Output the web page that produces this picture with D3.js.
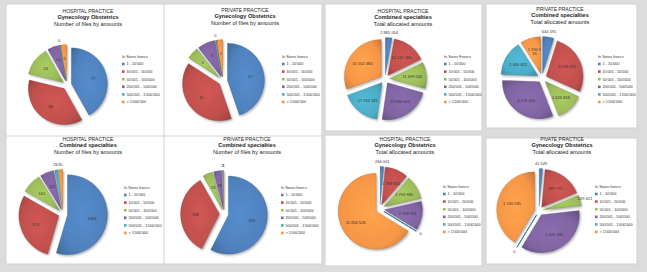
<!DOCTYPE html>
<html>
<head>
<meta charset="utf-8">
<script src="https://cdn.jsdelivr.net/npm/d3@7"></script>
<style>
  body { margin: 0; background: #dcdcdc; }
  svg { display: block; font-family: "Liberation Sans", Arial, sans-serif; }
</style>
</head>
<body>
<div id="chart"></div>
<script>
var width = 647, height = 272

// amount classes (legend)
var categories = ["1 - 10'000", "10'001 - 50'000", "50'001 - 100'000",
  "200'001 - 500'000", "500'001 - 1'000'000", "> 1'000'000"]
var colors = ["#4f81bd", "#c0504d", "#9bbb59", "#8064a2", "#4bacc6", "#f79646"]

// number of files by amounts
var hospGynFiles = [77, 68, 24, 10, 0, 5]
var privGynFiles = [17, 15, 2, 3, 0, 1]
var hospAllFiles = [1083, 570, 161, 112, 26, 35]
var privAllFiles = [315, 188, 23, 18, 3, 1]

// total allocated amounts (CHF)
var hospAllAmounts = [2885054, 15137260, 11699206, 23266615, 17334181, 31002384]
var privAllAmounts = [644591, 3576325, 1626818, 4178016, 2056812, 1190935]
var hospGynAmounts = [266001, 1768805, 1794985, 2209951, 0, 11854526]
var privGynAmounts = [41549, 497772, 129421, 1024186, 0, 1190935]

var charts = [
  { title: ["HOSPITAL PRACTICE", "Gynecology Obstetrics", "Number of files by amounts"],
    values: hospGynFiles, tx: 88, ty: 13, cx: 67, cy: 85, r: 36, lx: 122, ly: 57, lt: "In Swiss francs" },
  { title: ["PRIVATE PRACTICE", "Gynecology Obstetrics", "Number of files by amounts"],
    values: privGynFiles, tx: 245, ty: 12, cx: 223, cy: 81, r: 37, lx: 282, ly: 57, lt: "In Swiss francs" },
  { title: ["HOSPITAL PRACTICE", "Combined specialties", "Total allocated amounts"],
    values: hospAllAmounts, tx: 403, ty: 13, cx: 385, cy: 79, r: 37, lx: 444, ly: 57, lt: "In Swiss Francs" },
  { title: ["PRIVATE PRACTICE", "Combined specialties", "Total allocated amounts"],
    values: privAllAmounts, tx: 560, ty: 11, cx: 542, cy: 78, r: 37, lx: 598, ly: 57, lt: "In Swiss francs" },
  { title: ["HOSPITAL PRACTICE", "Combined specialties", "Number of files by amounts"],
    values: hospAllFiles, tx: 88, ty: 141, cx: 63, cy: 214, r: 40, lx: 124, ly: 188, lt: "In Swiss francs" },
  { title: ["PRIVATE PRACTICE", "Combined specialties", "Number of files by amounts"],
    values: privAllFiles, tx: 247, ty: 141, cx: 224, cy: 214, r: 39, lx: 281, ly: 188, lt: "In Swiss francs" },
  { title: ["HOSPITAL PRACTICE", "Gynecology Obstetrics", "Total allocated amounts"],
    values: hospGynAmounts, tx: 405, ty: 141, cx: 380, cy: 209, r: 38, lx: 443, ly: 187, lt: "In Swiss francs" },
  { title: ["PIVATE PRACTICE", "Gynecology Obstetrics", "Total allocated amounts"],
    values: privGynAmounts, tx: 562, ty: 141, cx: 539, cy: 211, r: 38, lx: 595, ly: 187, lt: "In Swiss francs" }
]

var svg = d3.select("#chart").append("svg")
  .attr("width", width)
  .attr("height", height)

// gradients + shadow
var defs = svg.append("defs")
colors.forEach(function (c, i) {
  var g = defs.append("radialGradient").attr("id", "g" + i)
    .attr("cx", "50%").attr("cy", "50%").attr("r", "65%")
  g.append("stop").attr("offset", "0%").attr("stop-color", d3.color(c).brighter(0.25))
  g.append("stop").attr("offset", "70%").attr("stop-color", c)
  g.append("stop").attr("offset", "100%").attr("stop-color", d3.color(c).darker(0.5))
})
defs.append("filter").attr("id", "shadow")
  .append("feGaussianBlur").attr("stdDeviation", 0.8)

// panels
svg.append("rect").attr("x", 6).attr("y", 4).attr("width", 316).attr("height", 260)
  .attr("fill", "#fff").attr("stroke", "#cfcfcf").attr("stroke-width", 1)
svg.append("line").attr("x1", 164).attr("x2", 164).attr("y1", 4).attr("y2", 264)
  .attr("stroke", "#d4d4d4")
svg.append("line").attr("x1", 6).attr("x2", 322).attr("y1", 136).attr("y2", 136)
  .attr("stroke", "#d4d4d4")
var rightPanels = [[325, 4, 157, 127], [486, 4, 151, 124], [325, 135, 157, 131], [486, 138, 151, 126]]
rightPanels.forEach(function (p) {
  svg.append("rect").attr("x", p[0]).attr("y", p[1]).attr("width", p[2]).attr("height", p[3])
    .attr("fill", "#fff").attr("stroke", "#cfcfcf")
})

var fmt = function (v) {
  return v >= 10000 ? d3.format(",")(v).replace(/,/g, " ") : String(v)
}

var pie = d3.pie().sort(null).value(function (d) { return d })

charts.forEach(function (ch) {
  var g = svg.append("g")

  // titles
  ch.title.forEach(function (t, i) {
    g.append("text")
      .attr("x", ch.tx).attr("y", ch.ty + i * 6.3)
      .attr("text-anchor", "middle")
      .attr("font-size", i == 0 ? 5 : 5.6)
      .attr("font-weight", i == 1 ? "bold" : "normal")
      .attr("fill", "#222")
      .text(t)
  })

  var arcs = pie(ch.values)
  var arc = d3.arc().innerRadius(0).outerRadius(ch.r)
  var explode = 4.5
  var off = function (d, k) {
    var a = (d.startAngle + d.endAngle) / 2
    return [k * Math.sin(a), -k * Math.cos(a)]
  }

  var pg = g.append("g").attr("transform", "translate(" + ch.cx + "," + ch.cy + ")")

  // shadow
  pg.selectAll("path.sh").data(arcs).enter().append("path")
    .attr("class", "sh")
    .attr("d", arc)
    .attr("transform", function (d) {
      var o = off(d, explode)
      return "translate(" + (o[0] + 1.2) + "," + (o[1] + 1.6) + ")"
    })
    .attr("fill", "#000").attr("opacity", 0.3)
    .attr("filter", "url(#shadow)")

  pg.selectAll("path.sl").data(arcs).enter().append("path")
    .attr("class", "sl")
    .attr("d", arc)
    .attr("transform", function (d) {
      var o = off(d, explode)
      return "translate(" + o[0] + "," + o[1] + ")"
    })
    .attr("fill", function (d, i) { return "url(#g" + i + ")" })
    .attr("stroke", function (d, i) { return d3.color(colors[i]).darker(0.8) })
    .attr("stroke-width", function (d) { return d.value == 0 ? 1 : 0.3 })

  // labels
  arcs.forEach(function (d) {
    var txt = fmt(d.value)
    var ang = d.endAngle - d.startAngle
    var tw = txt.length * 2.1
    var lines = [txt]
    var pos
    if (tw < ang * ch.r * 0.85 && d.value > 0) {
      pos = off(d, ch.r * 0.62 + explode)
    } else if (ang > 0.45) {
      lines = [txt.slice(0, 7), txt.slice(7)]
      pos = off(d, ch.r * 0.62 + explode)
    } else {
      pos = off(d, ch.r + explode + 5)
    }
    var t = pg.append("text")
      .attr("x", pos[0]).attr("y", pos[1] + 1.4 - (lines.length - 1) * 2.2)
      .attr("text-anchor", "middle")
      .attr("font-size", 4)
      .attr("fill", "#333")
    lines.forEach(function (l, i) {
      t.append("tspan").attr("x", pos[0]).attr("dy", i ? 4.4 : 0).text(l)
    })
  })

  // legend
  g.append("text")
    .attr("x", ch.lx).attr("y", ch.ly + 1.3)
    .attr("font-size", 3.8).attr("fill", "#333")
    .text(ch.lt)
  categories.forEach(function (c, i) {
    var y = ch.ly + 7 + i * 7.6
    g.append("rect")
      .attr("x", ch.lx).attr("y", y - 1.3)
      .attr("width", 2.6).attr("height", 2.6)
      .attr("fill", colors[i])
    g.append("text")
      .attr("x", ch.lx + 4.5).attr("y", y + 1.3)
      .attr("font-size", 3.8).attr("fill", "#333")
      .text(c)
  })
})
</script>
</body>
</html>
